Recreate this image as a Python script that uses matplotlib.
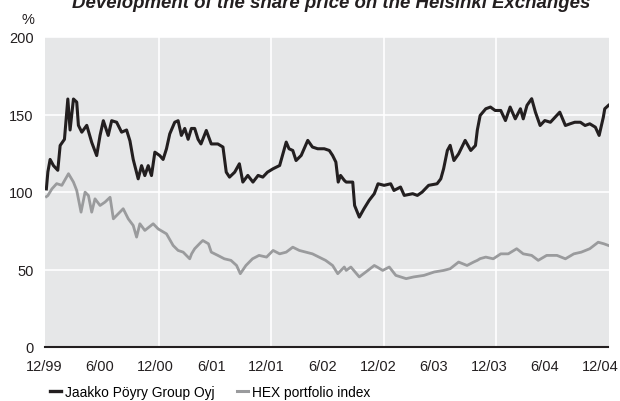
import numpy as np
import matplotlib
matplotlib.use("Agg")
from matplotlib import pyplot as plt
from matplotlib.lines import Line2D

# months counted from 12/99
jp_months = [0.0, 0.16, 0.4, 0.76, 1.22, 1.47, 1.93, 2.29, 2.53, 2.89, 3.24, 3.42, 3.78,
             4.31, 4.84, 5.37, 5.73, 6.08, 6.6, 6.97, 7.5, 8.03, 8.56, 8.92, 9.27, 9.8,
             10.16, 10.51, 10.87, 11.22, 11.58, 12.1, 12.46, 12.82, 13.17, 13.7, 14.06,
             14.41, 14.77, 15.13, 15.48, 15.83, 16.19, 16.5, 17.07, 17.6, 18.3, 18.85,
             19.2, 19.55, 20.1, 20.6, 20.97, 21.5, 22.05, 22.6, 23.1, 23.6, 24.2, 24.9,
             25.2, 25.6, 25.9, 26.3, 26.65, 27.2, 27.9, 28.4, 28.96, 29.66, 30.2, 30.55,
             30.9, 31.15, 31.4, 31.8, 32.0, 32.7, 32.9, 33.4, 33.9, 34.45, 35.0, 35.4,
             36.05, 36.75, 37.1, 37.8, 38.2, 39.1, 39.6, 40.1, 40.8, 41.7, 42.1, 42.4,
             42.8, 43.1, 43.5, 44.0, 44.7, 45.3, 45.8, 46.0, 46.3, 46.9, 47.4, 47.9, 48.5,
             49.0, 49.5, 50.05, 50.6, 50.9, 51.3, 51.8, 52.2, 52.7, 53.2, 53.8, 54.3,
             54.8, 55.4, 55.9, 56.4, 57.0, 57.5, 58.0, 58.6, 59.0, 59.45, 59.6, 60.0]
jp_values = [102, 113, 121, 117, 114, 130, 134, 160, 140, 160, 158, 143, 138.6,
             143, 132, 123.5, 136.5, 146, 136.5, 146, 145, 138.6, 140, 133, 121, 108.5,
             117, 110.6, 117, 110.6, 125.7, 123.5, 121, 127.9, 137.5, 145, 146,
             136.5, 141, 134, 141, 141, 134, 131, 139.7, 131, 131, 129,
             112.8, 109.6, 112.8, 118.2, 106.4, 110.7, 106.4, 110.7, 109.6, 112.8, 115, 117.1,
             123.6, 132.2, 127.9, 126.8, 120.3, 123.6, 133.3, 129, 127.9, 127.9, 126.8, 123.6,
             119.3, 106.4, 110.7, 107.5, 106.4, 106.4, 91.3, 83.8, 89.2, 94.6, 98.9, 105.3,
             104.3, 105.3, 101, 103.2, 97.8, 98.9, 97.8, 99.9, 104.3, 105.3, 108.5, 115,
             126.8, 130.1, 120.3, 124.6, 133.3, 126.8, 130, 140, 149.4, 153.7, 154.8, 152.6, 152.6,
             146.1, 154.8, 147.2, 153.7, 147.2, 155.9, 160.2, 151.5, 142.9, 146.1, 145, 148.3,
             151.5, 142.9, 144, 145, 145, 142.9, 144, 141.8, 136.5, 148.3, 153.7, 155.9]

hex_months = [0.0, 0.16, 0.59, 1.1, 1.65, 2.36, 2.89, 3.24, 3.7, 4.13, 4.49, 4.84, 5.19,
              5.73, 6.26, 6.8, 7.15, 7.68, 8.2, 8.74, 9.27, 9.63, 9.98, 10.51, 11.4, 11.93,
              12.82, 13.53, 14.06, 14.6, 15.3, 15.5, 15.83, 16.5, 16.7, 17.3, 17.6, 18.3,
              19.0, 19.7, 20.3, 20.7, 21.3, 22.0, 22.7, 23.5, 24.2, 24.9, 25.6, 26.3, 27.0,
              27.7, 28.4, 29.1, 29.8, 30.55, 31.1, 31.8, 32.0, 32.5, 33.4, 34.1, 35.0, 35.3,
              35.9, 36.6, 37.3, 38.4, 39.2, 40.3, 41.4, 42.4, 43.1, 44.0, 44.9, 45.6, 46.0,
              46.3, 46.9, 47.7, 48.5, 49.3, 50.2, 50.9, 51.8, 52.5, 53.4, 54.5, 55.4, 56.3,
              57.1, 58.0, 58.9, 59.5, 60.0]
hex_values = [97, 97.7, 102, 105.4, 104.3, 111.8, 106.4, 101, 87, 99.9, 97.7, 87, 95.6,
              91.3, 93.5, 96.6, 82.7, 86, 89.2, 82.7, 78.4, 70.9, 79.5, 75.2, 79.5, 76.2,
              73, 65.5, 62.3, 61.2, 56.9, 60.1, 63.4, 67.6, 68.7, 66.6, 61.2, 59.1,
              56.9, 55.9, 52.6, 47.3, 52.6, 56.9, 59.1, 58, 62.3, 60.1, 61.2, 64.4, 62.3,
              61.2, 60.1, 58, 55.9, 52.6, 47.3, 51.6, 49.4, 51.6, 45.2, 48.4, 52.6, 51.6,
              49.4, 51.6, 46.2, 44.1, 45.2, 46.2, 48.4, 49.4, 50.5, 54.8, 52.6, 54.8, 55.9,
              57, 58, 56.9, 60.1, 60.1, 63.4, 60.1, 59.1, 55.9, 59.1, 59.1, 56.9, 60.1,
              61.2, 63.4, 67.6, 66.6, 65.5]

tick_labels = ["12/99", "6/00", "12/00", "6/01", "12/01", "6/02",
               "12/02", "6/03", "12/03", "6/04", "12/04"]
year_lines = [12, 24, 36, 48]
y_ticks = [0, 50, 100, 150, 200]

plt.rcParams['font.family'] = ['Liberation Sans', 'DejaVu Sans']

fig = plt.figure(figsize=(6.2, 4.02), dpi=100)
ax = fig.add_axes([44.5 / 620, 1 - 348 / 402, 564 / 620, 310 / 402])
ax.set_facecolor("#e6e7e8")

for v in y_ticks[1:]:
    ax.axhline(v, color="white", lw=1.2, zorder=1)
for m in year_lines:
    ax.axvline(m, color="white", lw=1.2, zorder=1)

black = "#231f20"
grey = "#9a9b9d"
ax.plot(hex_months, hex_values, color=grey, lw=2.0, zorder=3)
ax.plot(jp_months, jp_values, color=black, lw=2.2, zorder=4)

ax.set_xlim(0, 60)
ax.set_ylim(0, 200)
ax.set_yticks(y_ticks)
# labels sit a touch left of the true month positions in the original
ax.set_xticks(np.linspace(-0.2, 59.1, len(tick_labels)))
ax.set_xticklabels(tick_labels)
ax.tick_params(length=0, labelsize=10.5, colors=black)
ax.tick_params(axis="y", pad=8)
ax.tick_params(axis="x", pad=9)
for s in ["top", "left", "right"]:
    ax.spines[s].set_visible(False)
ax.spines["bottom"].set_color(black)
ax.spines["bottom"].set_linewidth(1.5)
ax.spines["bottom"].set_zorder(5)

fig.text(28 / 620, 1 - 20 / 402, "%", ha="center", va="center", fontsize=10.5, color=black)
fig.text(331 / 620, 1 - 8 / 402, "Development of the share price on the Helsinki Exchanges",
         ha="center", va="baseline", fontsize=13.4, fontweight="bold", style="italic", color=black)

handles = [Line2D([], [], color=black, lw=2.4), Line2D([], [], color=grey, lw=2.2)]
fig.legend(handles, ["Jaakko Pöyry Group Oyj", "HEX portfolio index"],
           loc="center left", bbox_to_anchor=(50 / 620, 1 - 393 / 402), ncol=2,
           frameon=False, fontsize=9.9, handlelength=0.8, handletextpad=0.3,
           columnspacing=1.6, borderpad=0, borderaxespad=0)

fig.savefig("out.png", dpi=100)
